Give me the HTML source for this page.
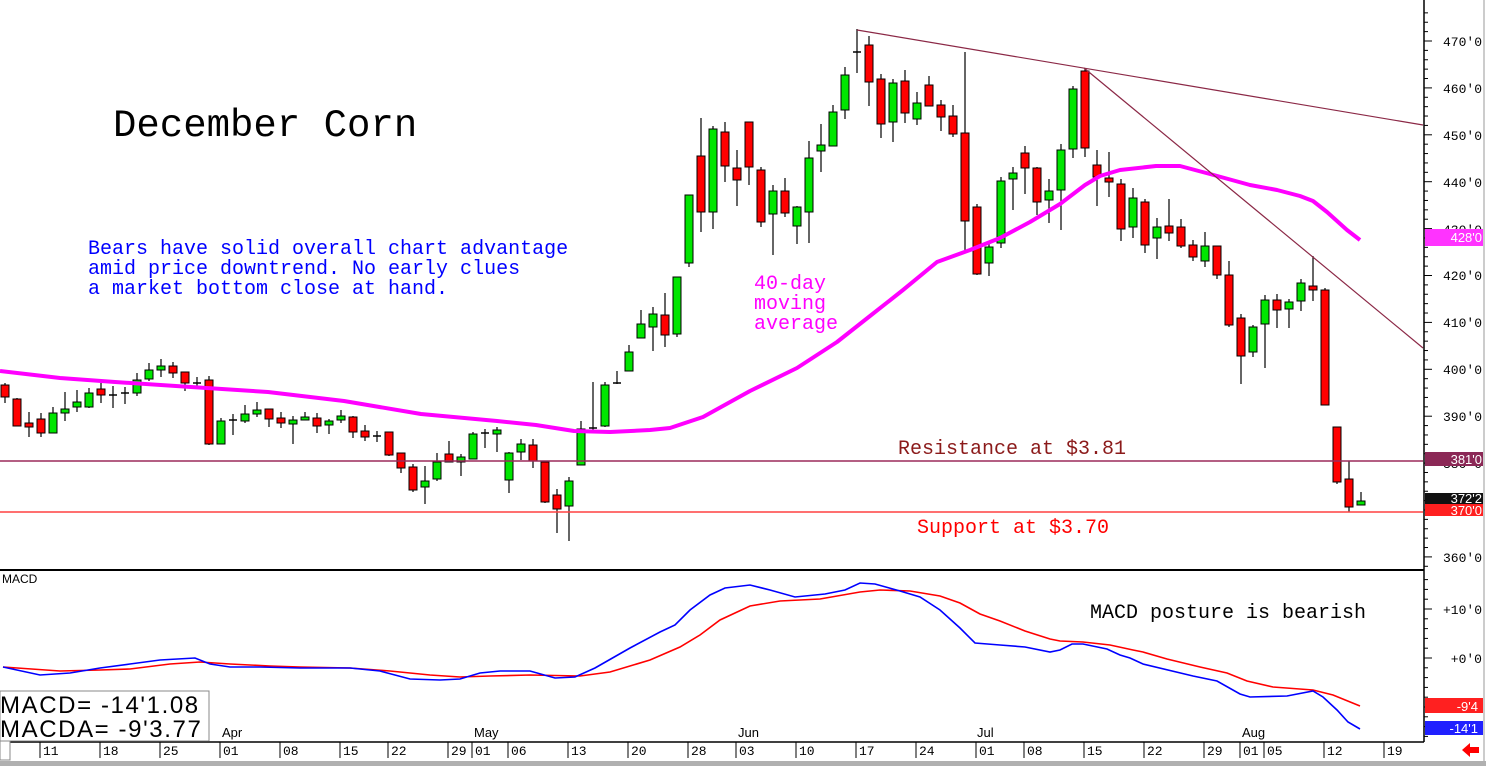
<!DOCTYPE html>
<html><head><meta charset="utf-8">
<style>
html,body{margin:0;padding:0;background:#fff;}
svg{display:block;}
text{font-family:"Liberation Mono",monospace;}
.ax{font-family:"Liberation Sans",sans-serif;font-size:13px;fill:#000;}
</style></head>
<body>
<svg id="s" width="1486" height="766" xmlns="http://www.w3.org/2000/svg">
<rect width="1486" height="766" fill="#fff"/>
<g id="cand"></g>
<!-- MA -->
<polyline fill="none" stroke="#ff00ff" stroke-width="4" stroke-linejoin="round" points="0,371 60,378 115,382 191,387 268,392 344,401 421,414 497,421 536,425 574,431 610,432 650,430 670,428 703,417 750,391 797,368 837,342 870,316 903,290 937,262 970,250 1000,238 1030,222 1060,204 1085,185 1100,176 1120,170 1156,166 1180,166 1210,174 1250,185 1277,190 1300,196 1313,201 1327,212 1347,230 1360,240"/>
<!-- trend lines -->
<line x1="857" y1="30" x2="1423" y2="125" stroke="#8b2846" stroke-width="1.2"/>
<line x1="1084" y1="68" x2="1423" y2="348" stroke="#8b2846" stroke-width="1.2"/>
<line x1="0" y1="461" x2="1423" y2="461" stroke="#9b2a5a" stroke-width="1.5"/>
<line x1="0" y1="512" x2="1423" y2="512" stroke="#ff4040" stroke-width="1.5"/>
<!-- texts -->
<text x="113" y="136" font-size="39" fill="#000">December Corn</text>
<text x="88" y="254" font-size="20" fill="#0000ff">Bears have solid overall chart advantage</text>
<text x="88" y="274" font-size="20" fill="#0000ff">amid price downtrend. No early clues</text>
<text x="88" y="294" font-size="20" fill="#0000ff">a market bottom close at hand.</text>
<text x="754" y="289" font-size="20" fill="#ff00ff">40-day</text>
<text x="754" y="309" font-size="20" fill="#ff00ff">moving</text>
<text x="754" y="329" font-size="20" fill="#ff00ff">average</text>
<text x="898" y="454" font-size="20" fill="#8b1a1a">Resistance at $3.81</text>
<text x="917" y="533" font-size="20" fill="#ff0000">Support at $3.70</text>
<text x="1090" y="618" font-size="20" fill="#000">MACD posture is bearish</text>
<text x="2" y="583" font-size="12" fill="#000" style="font-family:'Liberation Sans',sans-serif">MACD</text>
<!-- panel lines -->
<line x1="0" y1="570" x2="1424" y2="570" stroke="#000" stroke-width="2"/>
<line x1="1424" y1="0" x2="1424" y2="742" stroke="#000" stroke-width="1.5"/>
<line x1="0" y1="742" x2="1424" y2="742" stroke="#000" stroke-width="1.5"/>
<line x1="1484" y1="0" x2="1484" y2="766" stroke="#ccc" stroke-width="2"/>
<g id="ticks"></g>
<!-- MACD -->
<polyline fill="none" stroke="#ff0000" stroke-width="1.6" points="3,667 60,671 100,670 130,669 170,664 200,662 230,664 270,666 300,667 350,668 390,671 430,675 460,677 490,676 530,675 580,676 610,672 650,660 680,647 700,635 720,620 750,606 780,601 820,599 860,592 880,590 910,591 940,596 960,603 980,614 1000,621 1025,631 1050,639 1060,641 1083,642 1110,645 1133,650 1143,652 1167,659 1200,667 1227,673 1247,681 1273,687 1313,690 1333,695 1360,706"/>
<polyline fill="none" stroke="#0000ff" stroke-width="1.6" points="3,667 40,675 70,673 100,668 130,664 160,660 195,658 210,664 230,667 260,667 300,668 350,668 380,671 410,679 440,680 460,679 480,673 500,671 530,671 555,678 575,677 595,668 630,648 660,632 675,625 690,610 710,595 725,588 750,585 770,590 795,597 825,594 845,590 860,583 875,584 900,591 920,597 940,610 960,628 975,643 1000,645 1025,647 1050,652 1060,650 1072,644 1083,644 1107,649 1120,655 1130,658 1143,664 1193,676 1217,681 1240,694 1250,697 1287,696 1313,691 1323,697 1337,710 1348,722 1360,729"/>
<!-- MACD box -->
<rect x="0" y="691" width="209" height="50" fill="#fff" stroke="#888"/>
<rect x="0" y="741" width="10" height="19" fill="#fff" stroke="#888"/>
<text x="0" y="713" font-size="24" fill="#000" letter-spacing="1.6" style="font-family:'Liberation Sans',sans-serif">MACD= -14'1.08</text>
<text x="0" y="737" font-size="24" fill="#000" letter-spacing="1.6" style="font-family:'Liberation Sans',sans-serif">MACDA= -9'3.77</text>
<!-- right axis labels -->
<g class="ax" text-anchor="end">
<text x="1482" y="46">470'0</text><text x="1482" y="93">460'0</text><text x="1482" y="140">450'0</text>
<text x="1482" y="187">440'0</text><text x="1482" y="234">430'0</text><text x="1482" y="280">420'0</text>
<text x="1482" y="327">410'0</text><text x="1482" y="374">400'0</text><text x="1482" y="421">390'0</text>
<text x="1482" y="468">380'0</text><text x="1482" y="562">360'0</text>
<text x="1482" y="614">+10'0</text><text x="1482" y="663">+0'0</text>
</g>
<rect x="1425" y="229" width="58" height="17" fill="#ff33ff"/>
<text x="1482" y="242" class="ax" style="fill:#fff" text-anchor="end">428'0</text>
<rect x="1425" y="452" width="58" height="14" fill="#8b2856"/>
<text x="1482" y="464" class="ax" style="fill:#fff" text-anchor="end">381'0</text>
<rect x="1425" y="493" width="58" height="11" fill="#111"/>
<text x="1482" y="503" class="ax" style="fill:#fff" text-anchor="end">372'2</text>
<rect x="1425" y="504" width="58" height="12" fill="#ff2020"/>
<text x="1482" y="515" class="ax" style="fill:#fff" text-anchor="end">370'0</text>
<rect x="1425" y="698" width="58" height="15" fill="#ff2020"/>
<text x="1478" y="711" class="ax" style="fill:#fff" text-anchor="end">-9'4</text>
<rect x="1425" y="721" width="58" height="14" fill="#2020ff"/>
<text x="1478" y="733" class="ax" style="fill:#fff" text-anchor="end">-14'1</text>
<!-- dates -->
<g id="dates" class="ax"></g>
<text x="222" y="737" class="ax">Apr</text><text x="474" y="737" class="ax">May</text>
<text x="738" y="737" class="ax">Jun</text><text x="977" y="737" class="ax">Jul</text>
<text x="1242" y="737" class="ax">Aug</text>
<polygon points="1462,750 1470,743 1470,747 1479,747 1479,753 1470,753 1470,757" fill="#ff0000"/>
<rect x="0" y="761" width="1486" height="5" fill="#b0b0b0"/>
</svg>
<script>
var NS="http://www.w3.org/2000/svg";
function el(t,a,p){var e=document.createElementNS(NS,t);for(var k in a)e.setAttribute(k,a[k]);p.appendChild(e);return e;}
var D=[
[0,'r',385,397,383,403],[1,'r',399,426,398,426],[2,'r',423,427,412,437],[3,'r',419,433,413,437],[4,'g',413,433,407,433],
[5,'g',409,413,392,421],[6,'g',402,407,390,412],[7,'g',393,407,388,408],[8,'r',389,395,383,403],[9,'d',395,395,386,408],
[10,'d',393,393,387,404],[11,'g',380,393,373,396],[12,'g',370,379,363,381],[13,'g',366,370,359,377],[14,'r',366,373,362,378],
[15,'r',372,383,372,391],[16,'d',383,383,377,389],[17,'r',380,444,376,445],[18,'g',421,444,418,444],[19,'d',420,420,414,435],
[20,'g',414,421,405,423],[21,'g',410,414,402,417],[22,'r',409,419,409,427],[23,'r',418,423,412,428],[24,'g',420,424,416,444],
[25,'g',417,420,412,420],[26,'r',418,426,413,433],[27,'g',421,425,419,434],[28,'g',416,420,410,423],[29,'r',417,432,416,438],
[30,'r',431,437,425,441],[31,'d',436,436,431,442],[32,'r',432,455,432,456],[33,'r',453,468,453,473],[34,'r',467,490,464,492],
[35,'g',481,487,466,504],[36,'g',462,479,453,481],[37,'r',454,462,441,462],[38,'g',457,462,454,476],[39,'g',434,459,432,459],
[40,'d',433,433,429,448],[41,'g',430,434,427,452],[42,'g',453,480,452,493],[43,'g',444,452,439,460],[44,'r',445,461,439,468],
[45,'r',462,502,461,503],[46,'r',495,509,489,533],[47,'g',481,506,477,541],[48,'g',429,465,421,465],[49,'d',428,428,382,432],
[50,'g',385,426,382,427],[51,'d',383,383,371,384],[52,'g',352,371,345,371],[53,'g',324,338,310,338],[54,'g',314,327,307,351],
[55,'r',315,335,293,347],[56,'g',277,334,277,337],[57,'g',195,263,195,267],[58,'r',156,212,118,232],[59,'g',129,212,126,229],
[60,'r',132,166,122,182],[61,'r',168,180,150,206],[62,'r',122,167,122,185],[63,'r',170,222,167,227],[64,'g',191,214,185,255],
[65,'r',191,213,178,217],[66,'g',207,226,206,244],[67,'g',158,212,141,243],[68,'g',145,151,124,172],[69,'g',112,146,105,146],
[70,'g',75,110,67,119],[71,'d',52,52,29,73],[72,'r',45,82,36,106],[73,'r',79,124,74,138],[74,'g',83,122,79,142],
[75,'r',81,113,70,123],[76,'g',103,119,92,125],[77,'r',85,106,76,106],[78,'r',105,117,100,131],[79,'r',116,134,105,137],
[80,'r',133,221,52,250],[81,'r',207,274,204,275],[82,'g',247,263,242,276],[83,'g',181,243,177,248],[84,'g',173,179,167,210],
[85,'r',153,168,146,194],[86,'r',168,202,167,215],[87,'g',191,200,179,223],[88,'g',150,190,144,230],[89,'g',89,149,86,158],
[90,'r',71,148,68,157],[91,'r',165,177,150,206],[92,'r',178,182,152,197],[93,'r',184,229,179,241],[94,'g',198,227,188,238],
[95,'r',202,245,199,253],[96,'g',227,238,218,259],[97,'r',226,233,199,241],[98,'r',227,246,219,248],[99,'r',245,257,240,261],
[100,'g',246,261,232,267],[101,'r',246,275,246,279],[102,'r',275,325,261,327],[103,'r',318,356,314,384],[104,'g',327,352,325,357],
[105,'g',300,324,295,368],[106,'r',300,310,294,328],[107,'g',302,309,299,328],[108,'g',283,301,279,311],[109,'r',286,290,256,301],
[110,'r',290,405,288,405],[111,'r',427,482,427,484],[112,'r',479,507,461,512],[113,'g',501,505,492,505]];
var g=document.getElementById('cand');
D.forEach(function(d){var x=5+12*d[0];
el('line',{x1:x,y1:d[4],x2:x,y2:d[5],stroke:'#000','stroke-width':1.2},g);
if(d[1]=='d'){el('line',{x1:x-4,y1:d[2],x2:x+4,y2:d[2],stroke:'#000','stroke-width':1.5},g);}
else{var h=Math.max(d[3]-d[2],2);el('rect',{x:x-4,y:d[2],width:8,height:h,fill:d[1]=='g'?'#00e600':'#ff0000',stroke:'#000','stroke-width':1},g);}
});
var t=document.getElementById('ticks');
for(var p=356;p<=476;p+=2){var y=41+(470-p)*4.69;if(y<2||y>568)continue;var maj=(p%10==0);
el('line',{x1:1424,y1:y,x2:maj?1432:1428,y2:y,stroke:'#000','stroke-width':1},t);}
for(var v=-18;v<=18;v+=2){var y=658-v*4.9;if(y<574||y>740)continue;var maj=(v%10==0);
el('line',{x1:1424,y1:y,x2:maj?1432:1428,y2:y,stroke:'#000','stroke-width':1},t);}
var dt=[[40,'11'],[100,'18'],[160,'25'],[220,'01'],[280,'08'],[340,'15'],[388,'22'],[448,'29'],[472,'01'],[508,'06'],[568,'13'],[628,'20'],[688,'28'],[736,'03'],[796,'10'],[856,'17'],[916,'24'],[976,'01'],[1024,'08'],[1084,'15'],[1144,'22'],[1204,'29'],[1240,'01'],[1264,'05'],[1324,'12'],[1384,'19']];
var dg=document.getElementById('dates');
dt.forEach(function(d){el('line',{x1:d[0],y1:742,x2:d[0],y2:758,stroke:'#000','stroke-width':1},dg);
var tx=el('text',{x:d[0]+3,y:755},dg);tx.textContent=d[1];});
</script>
</body></html>
